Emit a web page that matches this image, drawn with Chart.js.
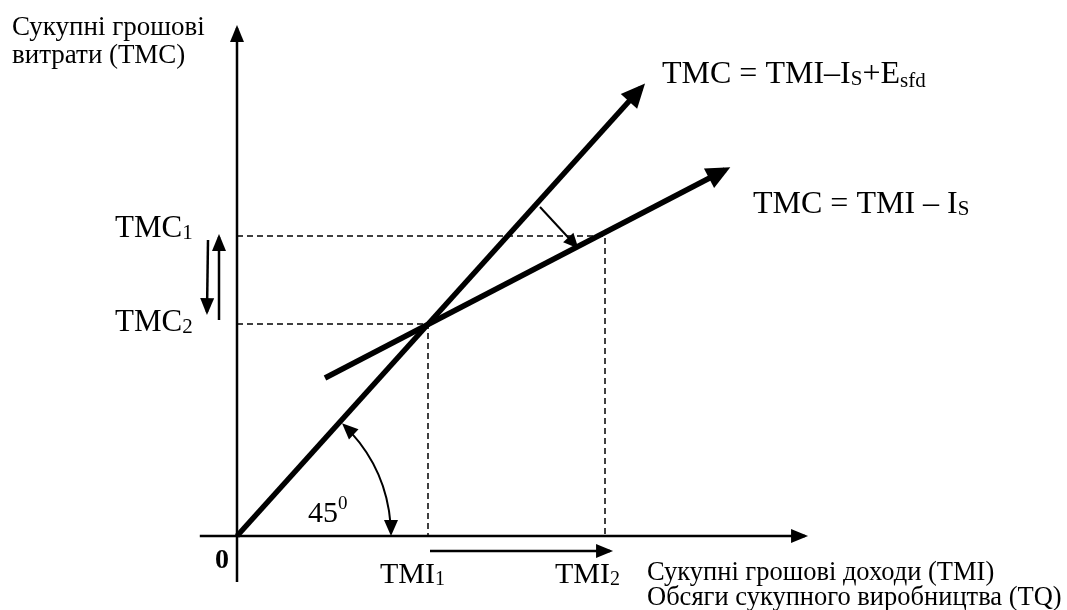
<!DOCTYPE html>
<html><head><meta charset="utf-8">
<script src="https://cdn.jsdelivr.net/npm/chart.js@4.4.0/dist/chart.umd.min.js"></script>
<style>html,body{margin:0;padding:0;background:#fff;overflow:hidden}</style>
</head><body>
<canvas id="c" width="1067" height="610"></canvas>
<script>
// ---- values (abstract units of TMI / TMC) ----
const TMI1 = 4.775, TMI2 = 9.2;
const TMC2 = 5.3, TMC1 = 7.5;
const lineEsfd = [{x:0,y:0},{x:10.1,y:11.2}];      // TMC = TMI – Is + Esfd
const lineIs   = [{x:2.2,y:3.95},{x:12.2,y:9.15}];  // TMC = TMI – Is
const yAxisLine = [{x:0,y:-1.15},{x:0,y:12.7}];
const xAxisLine = [{x:-0.93,y:0},{x:14.2,y:0}];
const guide1 = [{x:0,y:TMC1},{x:TMI2,y:TMC1},{x:TMI2,y:0}];
const guide2 = [{x:0,y:TMC2},{x:TMI1,y:TMC2},{x:TMI1,y:0}];
const shiftArrow = [{x:7.575,y:8.225},{x:8.5,y:7.225}];
const tmiArrow = [{x:4.825,y:-0.375},{x:9.325,y:-0.375}];
const tmcDown = [{x:-0.725,y:7.4},{x:-0.75,y:5.6}];
const tmcUp = [{x:-0.45,y:5.4},{x:-0.45,y:7.475}];
const angleArcRadius = 3.85, angleArcDeg = 47;

const serif = '"Liberation Serif","Times New Roman",serif';

function ds(data, width, arrow, dash){
  return {data, showLine:true, pointRadius:0, borderColor:'#000', backgroundColor:'#000',
    borderWidth:width, borderDash:dash||[], fill:false, tension:0, borderCapStyle:'butt',
    arrow: arrow||null};
}

function head(ctx, tx, ty, dx, dy, len, hw){
  const L = Math.hypot(dx,dy); dx/=L; dy/=L;
  const bx = tx - dx*len, by = ty - dy*len;
  ctx.beginPath();
  ctx.moveTo(tx,ty);
  ctx.lineTo(bx - dy*hw, by + dx*hw);
  ctx.lineTo(bx + dy*hw, by - dx*hw);
  ctx.closePath();
  ctx.fill();
}

function txt(ctx, parts, x, y){
  // parts: [text, size, dy, bold]
  let cx = x;
  for (const p of parts){
    ctx.font = (p[3]?'bold ':'') + p[1] + 'px ' + serif;
    ctx.fillText(p[0], cx, y + (p[2]||0));
    cx += ctx.measureText(p[0]).width;
  }
}

const arrowPlugin = {
  id:'arrows',
  afterDatasetsDraw(chart){
    const ctx = chart.ctx;
    ctx.save();
    ctx.fillStyle = '#000';
    chart.data.datasets.forEach((d,i)=>{
      if(!d.arrow) return;
      const pts = chart.getDatasetMeta(i).data;
      const a = pts[pts.length-2], b = pts[pts.length-1];
      const dx=b.x-a.x, dy=b.y-a.y, L=Math.hypot(dx,dy);
      const ext = d.borderWidth*d.arrow.len/(2*d.arrow.hw);
      head(ctx, b.x+dx/L*ext, b.y+dy/L*ext, dx, dy, d.arrow.len, d.arrow.hw);
    });
    // 45 degree arc
    const xs = chart.scales.x, ys = chart.scales.y;
    const cx = xs.getPixelForValue(0), cy = ys.getPixelForValue(0);
    const r = xs.getPixelForValue(angleArcRadius) - cx;
    const a1 = -angleArcDeg*Math.PI/180;
    ctx.strokeStyle='#000'; ctx.lineWidth=2;
    ctx.beginPath(); ctx.arc(cx,cy,r,a1+0.08,-0.08); ctx.stroke();
    head(ctx, cx+r, cy, 0, 1, 16, 7);
    head(ctx, cx+r*Math.cos(a1), cy+r*Math.sin(a1), Math.sin(a1), -Math.cos(a1), 16, 7);

    // texts
    ctx.fillStyle='#000'; ctx.textBaseline='alphabetic'; ctx.textAlign='left';
    const X = v=>xs.getPixelForValue(v), Y = v=>ys.getPixelForValue(v);
    txt(ctx, [['Сукупні грошові',27]], X(-5.625), Y(12.525));
    txt(ctx, [['витрати (ТМС)',27]], X(-5.625), Y(11.825));
    txt(ctx, [['TMC = TMI–I',32],['S',21,2],['+E',32],['sfd',21,4]], X(10.625), Y(11.325));
    txt(ctx, [['TMC = TMI – I',32],['S',21,2]], X(12.9), Y(8.075));
    txt(ctx, [['TMC',31],['1',21,2]], X(-3.05), Y(TMC1)+1);
    txt(ctx, [['TMC',31],['2',21,2]], X(-3.05), Y(TMC2)+7);
    txt(ctx, [['TMI',30],['1',20,2]], X(3.575), Y(-1.175));
    txt(ctx, [['TMI',30],['2',20,2]], X(7.95), Y(-1.175));
    txt(ctx, [['0',28,0,true]], X(-0.55), Y(-0.8));
    txt(ctx, [['45',30],['0',19,-13]], X(1.775), Y(0.35));
    txt(ctx, [['Сукупні грошові доходи (TMI)',26.5]], X(10.25), Y(-1.1));
    txt(ctx, [['Обсяги сукупного виробництва (TQ)',26.5]], X(10.25), Y(-1.725));
    ctx.restore();
  }
};

new Chart(document.getElementById('c'), {
  type:'scatter',
  data:{datasets:[
    ds(yAxisLine, 2.5, {len:17, hw:7}),
    ds(xAxisLine, 2.5, {len:17, hw:7}),
    ds(guide1, 1.5, null, [6,4]),
    ds(guide2, 1.5, null, [6,4]),
    ds(lineEsfd, 5.5, {len:24, hw:11}),
    ds(lineIs, 5.5, {len:24, hw:11}),
    ds(shiftArrow, 2, {len:15, hw:7}),
    ds(tmiArrow, 2.5, {len:17, hw:7}),
    ds(tmcDown, 2.5, {len:17, hw:7}),
    ds(tmcUp, 2.5, {len:17, hw:7})
  ]},
  options:{
    responsive:false, animation:false,
    layout:{padding:0},
    plugins:{legend:{display:false}, tooltip:{enabled:false}},
    scales:{
      x:{type:'linear', min:-5.925, max:20.75, display:false},
      y:{type:'linear', min:-1.85, max:13.4, display:false}
    }
  },
  plugins:[arrowPlugin]
});
</script>
</body></html>
